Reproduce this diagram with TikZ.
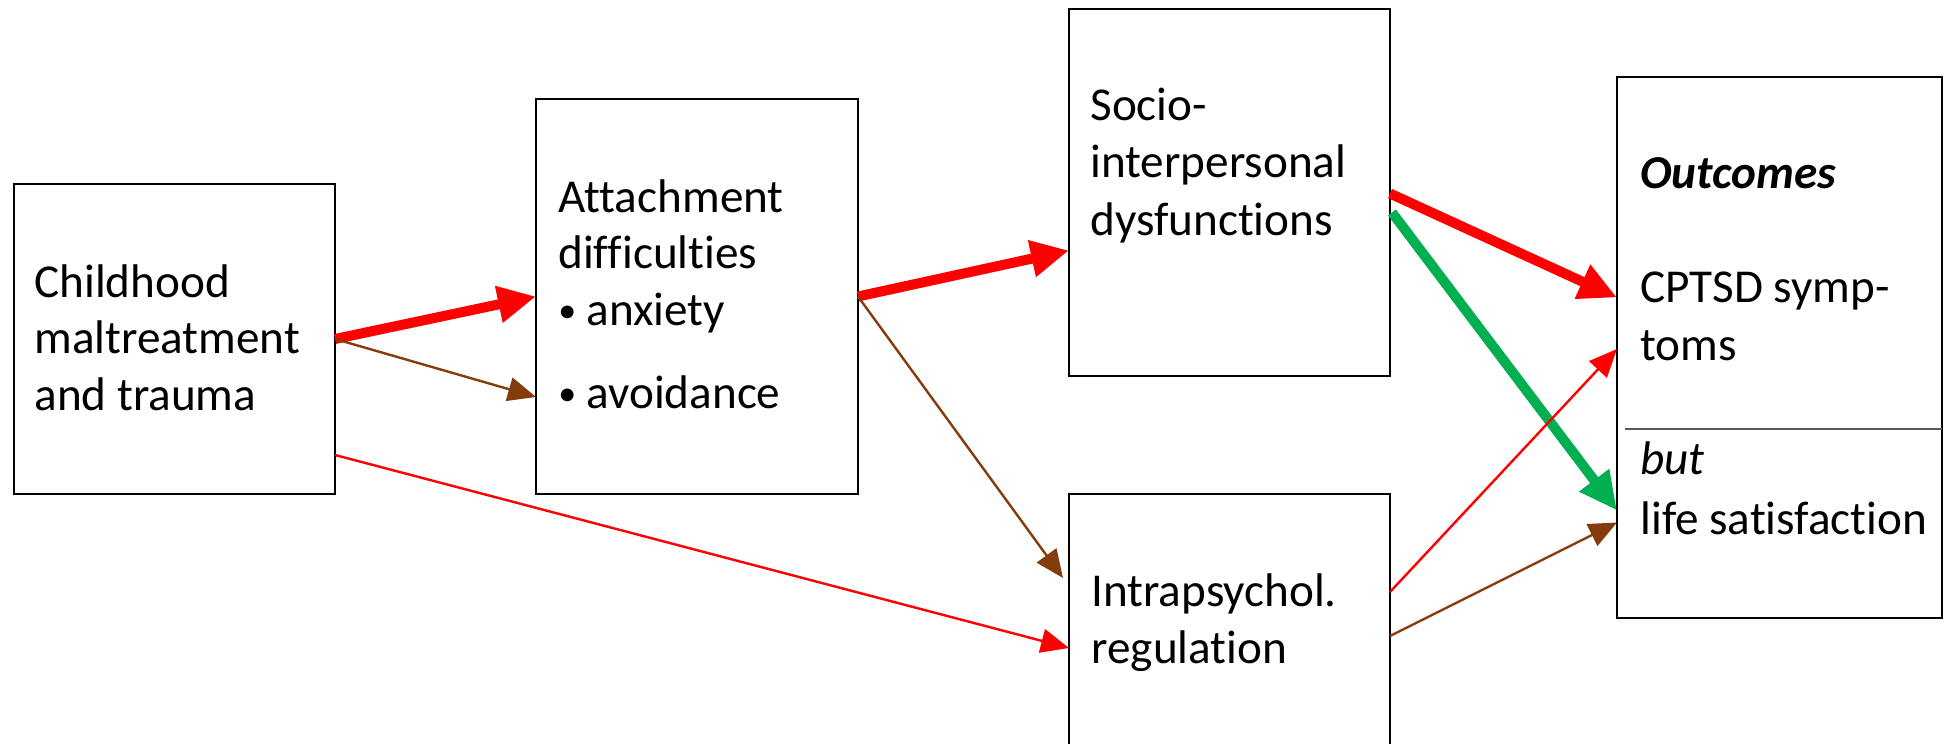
\documentclass[tikz,border=0pt]{standalone}
\usepackage{fontspec}
\setmainfont{Carlito}[Ligatures={NoCommon}]
\usetikzlibrary{arrows.meta,calc}
\definecolor{brn}{RGB}{133,60,12}
\definecolor{grn}{RGB}{0,176,80}
\definecolor{rd}{RGB}{255,0,0}
\newcommand{\mybul}{\makebox[14pt][l]{\fontsize{18pt}{20pt}\selectfont\raisebox{1.2pt}{•}}}
\begin{document}
\begin{tikzpicture}[x=0.5pt,y=-0.5pt,
  box/.style={draw, line width=0.75pt, inner sep=0pt, outer sep=0pt},
  txt/.style={anchor=base west, inner sep=0pt, font=\fontsize{23.6pt}{28pt}\selectfont},
  thickred/.style={draw=rd, line width=5pt, -{Triangle[length=19pt,width=17.5pt]}},
  thickgrn/.style={draw=grn, line width=5pt, -{Triangle[length=19pt,width=17.5pt]}},
  thinred/.style={draw=rd, line width=1.2pt, -{Triangle[length=14pt,width=12pt]}},
  thinbrn/.style={draw=brn, line width=1.2pt, -{Triangle[length=14pt,width=12pt]}}]
\useasboundingbox (0,0) rectangle (1945,744);
\clip (0,0) rectangle (1945,744);
% boxes
\node[box, minimum width=160.5pt, minimum height=155pt] (A) at (174.5,339) {};
\node[box, minimum width=161pt, minimum height=197.5pt] (B) at (697,296.5) {};
\node[box, minimum width=160.5pt, minimum height=183.5pt] (C) at (1229.5,192.5) {};
\node[box, minimum width=160.5pt, minimum height=153pt] (D) at (1229.5,647) {};
\node[box, minimum width=162.5pt, minimum height=270.5pt] (E) at (1779.5,347.5) {};
% divider
\coordinate (divL) at (1625,429);
\draw[black!65, line width=0.6pt] (divL) -- (E.east |- divL);
% texts
\node[txt] (a1) at (34,297) {Childhood};
\node[txt] (a2) at (34,353) {maltreatment};
\node[txt] (a3) at (34,410) {and trauma};
\node[txt] (b1) at (558,212) {Attachment};
\node[txt] (b2) at (558,268) {difficulties};
\node[txt] (b3) at (558,325) {\mybul anxiety};
\node[txt] (b4) at (558,408) {\mybul avoidance};
\node[txt] (c1) at (1090,120) {Socio-};
\node[txt] (c2) at (1090,177) {interpersonal};
\node[txt] (c3) at (1090,235) {dysfunctions};
\node[txt] (d1) at (1091,606) {Intrapsychol.};
\node[txt] (d2) at (1091,663) {regulation};
\node[txt] (e1) at (1640,188) {\textbf{\textit{Outcomes}}};
\node[txt] (e2) at (1640,302) {CPTSD symp-};
\node[txt] (e3) at (1640,360) {toms};
\node[txt] (e4) at (1640,474) {\textit{but}};
\node[txt] (e5) at (1640,534) {life satisfaction};
% arrows
\draw[thickred] (A.east) -- (B.west);
\draw[thinbrn] (A.east) -- ($(B.west)+(0,100.5)$);
\draw[thickred] (B.east) -- ($(C.west)+(0,58)$);
\draw[thinbrn] (B.east) -- ($(D.west)+(-6,-69)$);
\draw[thinred] ($(A.east)+(0,116)$) -- ($(D.west)+(0,1)$);
\draw[thickred] ($(C.east)+(0,1)$) -- ($(E.west)+(0,-50)$);
\draw[thickgrn] ($(C.east)+(2,20)$) -- ($(E.west)+(0,163)$);
\draw[thinred] ($(D.east)+(0,-55)$) -- ($(E.west)+(0,1.5)$);
\draw[thinbrn] ($(D.east)+(0,-11)$) -- ($(E.west)+(0,175)$);
\end{tikzpicture}
\end{document}
